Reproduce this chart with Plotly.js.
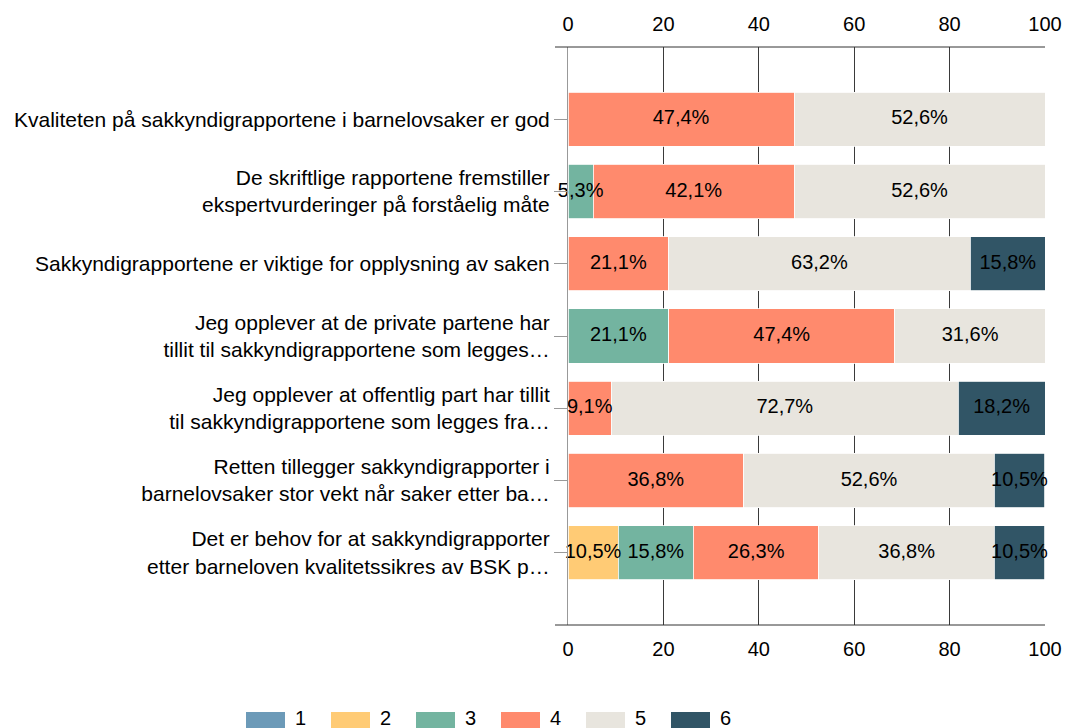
<!DOCTYPE html>
<html><head><meta charset="utf-8">
<script src="https://cdn.plot.ly/plotly-3.0.1.min.js"></script>
<style>html,body{margin:0;padding:0;background:#fff}#chart{width:1065px;height:728px}</style>
</head><body><div id="chart"></div>
<script>
const categories = [
  "Kvaliteten på sakkyndigrapportene i barnelovsaker er god",
  "De skriftlige rapportene fremstiller<br>ekspertvurderinger på forståelig måte",
  "Sakkyndigrapportene er viktige for opplysning av saken",
  "Jeg opplever at de private partene har<br>tillit til sakkyndigrapportene som legges…",
  "Jeg opplever at offentlig part har tillit<br>til sakkyndigrapportene som legges fra…",
  "Retten tillegger sakkyndigrapporter i<br>barnelovsaker stor vekt når saker etter ba…",
  "Det er behov for at sakkyndigrapporter<br>etter barneloven kvalitetssikres av BSK p…"
];
const seriesNames = ["1", "2", "3", "4", "5", "6"];
const seriesColors = ["#6c9ab8", "#ffcb75", "#73b4a0", "#ff8a6d", "#e8e5de", "#315566"];
const s1 = [null, null, null, null, null, null, null];
const s2 = [null, null, null, null, null, null, 10.5];
const s3 = [null, 5.3, null, 21.1, null, null, 15.8];
const s4 = [47.4, 42.1, 21.1, 47.4, 9.1, 36.8, 26.3];
const s5 = [52.6, 52.6, 63.2, 31.6, 72.7, 52.6, 36.8];
const s6 = [null, null, 15.8, null, 18.2, 10.5, 10.5];
const xTicks = [0, 20, 40, 60, 80, 100];

const series = [s1, s2, s3, s4, s5, s6];
const FONT = "Liberation Sans, Arial, sans-serif";
const FS = 20;

const traces = [];
series.forEach((vals, i) => {
  traces.push({
    type: "bar", orientation: "h", name: seriesNames[i],
    y: categories, x: vals,
    marker: {color: seriesColors[i], line: {color: "#ffffff", width: 0.8}},
    width: 0.75, showlegend: false, hoverinfo: "x+name"
  });
});

// label positions from cumulative data
const tx = [], ty = [], tt = [];
categories.forEach((c, j) => {
  let cum = 0;
  series.forEach(vals => {
    const v = vals[j];
    if (v != null && v > 0) {
      tx.push(cum + v / 2); ty.push(c);
      tt.push(v.toFixed(1).replace(".", ",") + "%");
      cum += v;
    }
  });
});
traces.push({
  type: "scatter", mode: "text", x: tx, y: ty, text: tt,
  textfont: {family: FONT, size: FS, color: "#000"},
  textposition: "middle center", showlegend: false, hoverinfo: "skip", cliponaxis: false
});
// dummy trace to activate top axis
traces.push({type: "scatter", x: [0, 100], y: [categories[0], categories[0]], xaxis: "x2", mode: "none", showlegend: false, hoverinfo: "skip"});

// plot geometry (pixels)
const L = 568, R = 20, T = 47, B = 103;
const W = 1065 - L - R, H = 728 - T - B;
const px2x = p => (p - L) / W;
const px2y = p => (728 - B - p) / H;

const shapes = [
  {type: "line", xref: "paper", yref: "paper", x0: px2x(555), x1: 1, y0: 1, y1: 1, line: {color: "#333", width: 1}},
  {type: "line", xref: "paper", yref: "paper", x0: px2x(555), x1: 1, y0: 0, y1: 0, line: {color: "#333", width: 1}}
];
const annotations = [];
seriesNames.forEach((n, i) => {
  const sx = 246 + 85 * i;
  shapes.push({type: "rect", xref: "paper", yref: "paper", x0: px2x(sx), x1: px2x(sx + 39),
    y0: px2y(712), y1: px2y(730), fillcolor: seriesColors[i], line: {width: 0}});
  annotations.push({xref: "paper", yref: "paper", x: px2x(sx + 47), y: px2y(718), text: n,
    showarrow: false, xanchor: "left", yanchor: "middle", font: {family: FONT, size: FS, color: "#000"}});
});

const layout = {
  width: 1065, height: 728,
  margin: {l: L, r: R, t: T, b: B, pad: 0},
  paper_bgcolor: "#fff", plot_bgcolor: "#fff",
  barmode: "stack", showlegend: false,
  font: {family: FONT, size: FS, color: "#000"},
  xaxis: {range: [0, 100], tickvals: xTicks, ticks: "", showgrid: true, gridcolor: "#3a3a3a", gridwidth: 1,
    zeroline: false, showline: false, ticklabelstandoff: 10, tickfont: {family: FONT, size: FS, color: "#000"}, fixedrange: true},
  xaxis2: {range: [0, 100], tickvals: xTicks, overlaying: "x", side: "top", ticks: "", showgrid: false,
    zeroline: false, showline: false, ticklabelstandoff: 11, tickfont: {family: FONT, size: FS, color: "#000"}, fixedrange: true},
  yaxis: {type: "category", categoryorder: "array", categoryarray: categories, range: [7, -1],
    ticks: "outside", ticklen: 13, tickcolor: "#999", tickwidth: 1, showline: true, linecolor: "#999", linewidth: 1,
    showgrid: false, zeroline: false, tickfont: {family: FONT, size: 21, color: "#000"}, fixedrange: true},
  shapes: shapes, annotations: annotations
};
Plotly.newPlot("chart", traces, layout, {displayModeBar: false, staticPlot: true});
</script></body></html>
